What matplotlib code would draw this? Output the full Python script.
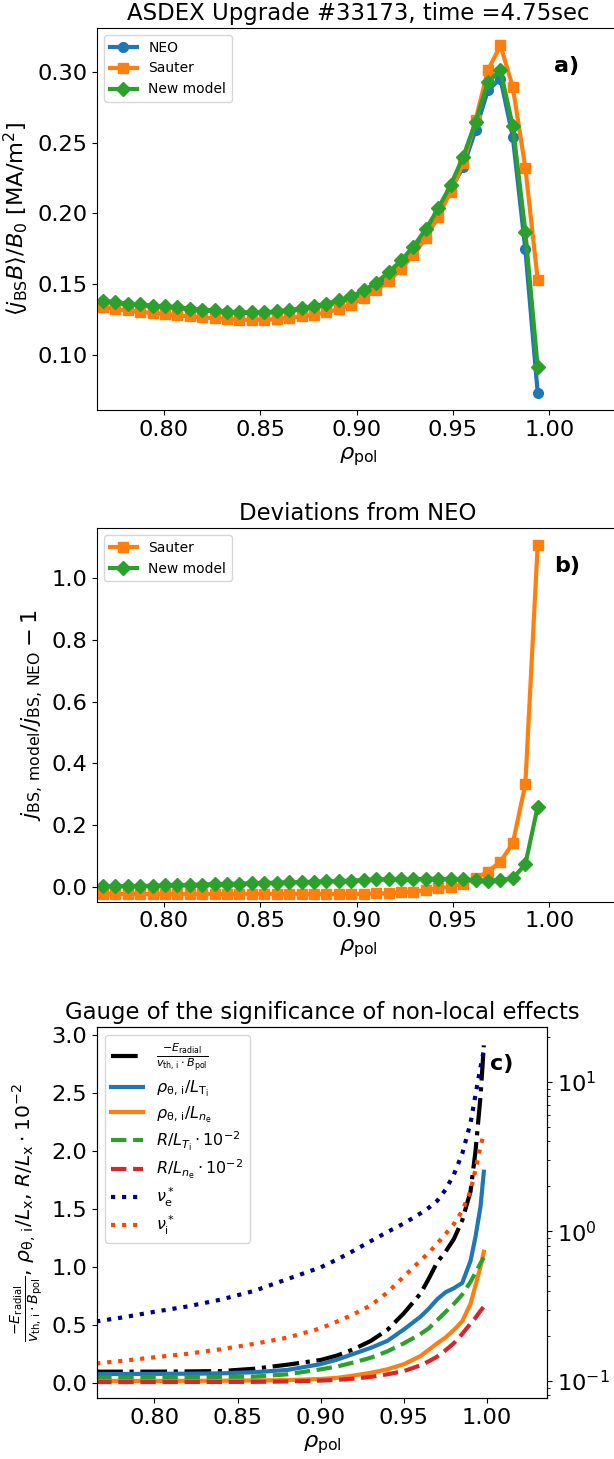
import matplotlib
matplotlib.use('Agg')
import matplotlib.pyplot as plt

# radial grid of the bootstrap current comparison
rho = [0.7685, 0.7749, 0.7814, 0.7878, 0.7943, 0.8007, 0.8071, 0.8136, 0.8200,
       0.8265, 0.8329, 0.8393, 0.8458, 0.8522, 0.8587, 0.8651, 0.8715, 0.8780,
       0.8844, 0.8909, 0.8973, 0.9037, 0.9102, 0.9166, 0.9231, 0.9295, 0.9359,
       0.9424, 0.9488, 0.9553, 0.9617, 0.9681, 0.9746, 0.9810, 0.9875, 0.9939]

# <j_BS B>/B0 in MA/m^2
j_new = [0.1382, 0.1372, 0.1361, 0.1356, 0.1346, 0.1342, 0.1335, 0.1325, 0.1318,
         0.1313, 0.1304, 0.1301, 0.1299, 0.1301, 0.1306, 0.1316, 0.1327, 0.1342,
         0.1361, 0.1384, 0.1413, 0.1455, 0.1510, 0.1583, 0.1667, 0.1766, 0.1889,
         0.2037, 0.2202, 0.2402, 0.2649, 0.2932, 0.3014, 0.2619, 0.1872, 0.0912]
j_sauter = [0.1337, 0.1323, 0.1313, 0.1304, 0.1294, 0.1287, 0.1278, 0.1271, 0.1264,
            0.1257, 0.1252, 0.1247, 0.1247, 0.1247, 0.1252, 0.1259, 0.1271, 0.1282,
            0.1299, 0.1323, 0.1355, 0.1402, 0.1455, 0.1520, 0.1607, 0.1708, 0.1826,
            0.1978, 0.2155, 0.2355, 0.2661, 0.3014, 0.3191, 0.2896, 0.2324, 0.1531]
j_neo = [0.1377, 0.1367, 0.1356, 0.1351, 0.1341, 0.1337, 0.1330, 0.1320, 0.1313,
         0.1308, 0.1299, 0.1296, 0.1294, 0.1296, 0.1301, 0.1311, 0.1322, 0.1337,
         0.1356, 0.1378, 0.1395, 0.1435, 0.1490, 0.1560, 0.1640, 0.1740, 0.1860,
         0.2005, 0.2170, 0.2331, 0.2590, 0.2873, 0.2955, 0.2543, 0.1748, 0.0731]

# relative deviations j_model/j_NEO - 1
dev_sauter = [-0.024, -0.024, -0.024, -0.024, -0.024, -0.024, -0.024, -0.024, -0.024,
              -0.024, -0.024, -0.024, -0.024, -0.024, -0.024, -0.024, -0.024, -0.024,
              -0.024, -0.024, -0.0237, -0.0237, -0.0216, -0.0216, -0.0184, -0.0162,
              -0.0108, -0.0054, 0.0, 0.0086, 0.0270, 0.0486, 0.0810, 0.1404, 0.3317, 1.107]
dev_new = [0.001, 0.001, 0.002, 0.002, 0.003, 0.004, 0.005, 0.006, 0.007,
           0.008, 0.009, 0.010, 0.011, 0.012, 0.013, 0.014, 0.015, 0.016,
           0.017, 0.018, 0.0195, 0.0216, 0.0237, 0.0237, 0.0237, 0.0237,
           0.0259, 0.0259, 0.0237, 0.0237, 0.0216, 0.0195, 0.0216, 0.0270, 0.0724, 0.2593]

# non-local effect indicators
rho_c = [0.765, 0.78, 0.80, 0.82, 0.84, 0.86, 0.88, 0.90, 0.91, 0.92, 0.93, 0.94,
         0.95, 0.96, 0.965, 0.97, 0.975, 0.98, 0.985, 0.99, 0.993, 0.996, 0.998]
e_radial = [0.095, 0.095, 0.095, 0.097, 0.100, 0.120, 0.155, 0.196, 0.235, 0.290,
            0.360, 0.455, 0.600, 0.770, 0.900, 1.040, 1.130, 1.240, 1.400, 1.650,
            2.000, 2.470, 2.910]
rho_lti = [0.075, 0.075, 0.076, 0.077, 0.080, 0.090, 0.110, 0.160, 0.200, 0.250,
           0.300, 0.360, 0.460, 0.570, 0.640, 0.720, 0.780, 0.815, 0.860, 1.050,
           1.260, 1.520, 1.820]
rho_lne = [0.015, 0.015, 0.015, 0.016, 0.017, 0.019, 0.022, 0.032, 0.042, 0.062,
           0.085, 0.115, 0.160, 0.230, 0.285, 0.340, 0.390, 0.455, 0.530, 0.680,
           0.840, 1.000, 1.130]
r_lti = [0.046, 0.046, 0.047, 0.048, 0.050, 0.052, 0.072, 0.115, 0.140, 0.175,
         0.215, 0.270, 0.340, 0.420, 0.470, 0.540, 0.610, 0.680, 0.760, 0.870,
         0.950, 1.030, 1.080]
r_lne = [0.005, 0.005, 0.005, 0.006, 0.006, 0.007, 0.010, 0.018, 0.025, 0.035,
         0.050, 0.072, 0.100, 0.150, 0.185, 0.225, 0.280, 0.340, 0.420, 0.510,
         0.560, 0.620, 0.656]
nu_e = [0.25, 0.265, 0.29, 0.315, 0.35, 0.40, 0.48, 0.575, 0.65, 0.745, 0.86, 0.99,
        1.13, 1.32, 1.44, 1.60, 1.90, 2.4, 3.3, 5.3, 8.2, 12.5, 16.3]
nu_i = [0.131, 0.136, 0.144, 0.152, 0.163, 0.177, 0.195, 0.225, 0.25, 0.28, 0.32,
        0.39, 0.50, 0.64, 0.72, 0.83, 0.96, 1.12, 1.37, 1.86, 2.6, 3.7, 4.5]

TICK = 16.2
TITLE = 16.4
XLIM = (0.7655, 1.036)

fig = plt.figure(figsize=(6.14, 14.59), dpi=100)

# a) bootstrap current from the three models
ax1 = fig.add_axes([0.158, 0.719, 0.85, 0.2618])
ax1.plot(rho, j_neo, '-o', color='tab:blue', lw=3, ms=7, label='NEO')
ax1.plot(rho, j_sauter, '-s', color='tab:orange', lw=3, ms=7, label='Sauter')
ax1.plot(rho, j_new, '-D', color='tab:green', lw=3, ms=7, label='New model')
ax1.set_xlim(*XLIM)
ax1.set_title('ASDEX Upgrade #33173, time =4.75sec', fontsize=TITLE)
ax1.set_xlabel(r'$\rho_\mathrm{pol}$', fontsize=TICK)
ax1.set_ylabel(r'$\langle j_\mathrm{BS}B\rangle/B_0$ [MA/m$^2$]', fontsize=TICK)
ax1.tick_params(labelsize=TICK)
ax1.legend(loc='upper left', fontsize=10)
ax1.text(0.9, 0.9, 'a)', transform=ax1.transAxes, fontsize=16, fontweight='bold',
         ha='center', va='center')

# b) deviations from NEO
ax2 = fig.add_axes([0.158, 0.382, 0.85, 0.256])
ax2.plot(rho, dev_sauter, '-s', color='tab:orange', lw=3, ms=7, label='Sauter')
ax2.plot(rho, dev_new, '-D', color='tab:green', lw=3, ms=7, label='New model')
ax2.set_xlim(*XLIM)
ax2.set_ylim(-0.0486, 1.162)
ax2.set_title('Deviations from NEO', fontsize=TITLE)
ax2.set_xlabel(r'$\rho_\mathrm{pol}$', fontsize=TICK)
ax2.set_ylabel(r'$j_\mathrm{BS,\,model}/j_\mathrm{BS,\,NEO}-1$', fontsize=TICK)
ax2.tick_params(labelsize=TICK)
ax2.legend(loc='upper left', fontsize=10)
ax2.text(0.9, 0.9, 'b)', transform=ax2.transAxes, fontsize=16, fontweight='bold',
         ha='center', va='center')

# c) gauge of non-local effects, collisionalities on a log twin axis
ax3 = fig.add_axes([0.158, 0.0416, 0.733, 0.2543])
ax3b = ax3.twinx()
l1, = ax3.plot(rho_c, e_radial, '-.', color='black', lw=3,
               label=r'$\frac{-E_\mathrm{radial}}{v_\mathrm{th,\,i}\cdot B_\mathrm{pol}}$')
l2, = ax3.plot(rho_c, rho_lti, '-', color='tab:blue', lw=3,
               label=r'$\rho_\mathrm{\theta,\,i}/L_\mathrm{T_i}$')
l3, = ax3.plot(rho_c, rho_lne, '-', color='tab:orange', lw=3,
               label=r'$\rho_\mathrm{\theta,\,i}/L_{n_\mathrm{e}}$')
l4, = ax3.plot(rho_c, r_lti, '--', color='tab:green', lw=3,
               label=r'$R/L_{T_\mathrm{i}}\cdot10^{-2}$')
l5, = ax3.plot(rho_c, r_lne, '--', color='tab:red', lw=3,
               label=r'$R/L_{n_\mathrm{e}}\cdot10^{-2}$')
l6, = ax3b.plot(rho_c, nu_e, ':', color='navy', lw=3, label=r'$\nu^*_\mathrm{e}$')
l7, = ax3b.plot(rho_c, nu_i, ':', color='orangered', lw=3, label=r'$\nu^*_\mathrm{i}$')
ax3b.set_yscale('log')
ax3b.set_ylim(0.0766, 23.1)
ax3.set_xlim(*XLIM)
ax3.set_ylim(-0.135, 3.066)
ax3.set_title('Gauge of the significance of non-local effects', fontsize=TITLE)
ax3.set_xlabel(r'$\rho_\mathrm{pol}$', fontsize=TICK)
ax3.set_ylabel(r'$\frac{-E_\mathrm{radial}}{v_\mathrm{th,\,i}\cdot B_\mathrm{pol}}$, '
               r'$\rho_\mathrm{\theta,\,i}/L_\mathrm{x}$, $R/L_\mathrm{x}\cdot10^{-2}$',
               fontsize=14.7)
ax3.tick_params(labelsize=TICK)
ax3b.tick_params(labelsize=TICK)
ax3b.legend(handles=[l1, l2, l3, l4, l5, l6, l7], loc='upper left', fontsize=11.5,
            labelspacing=0.3)
ax3.text(0.9, 0.9, 'c)', transform=ax3.transAxes, fontsize=16, fontweight='bold',
         ha='center', va='center')

fig.savefig('out.png', dpi=100)
